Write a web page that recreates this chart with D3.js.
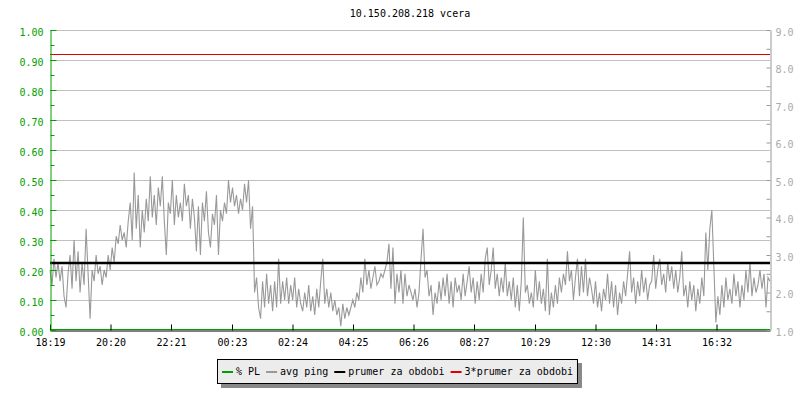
<!DOCTYPE html>
<html>
<head>
<meta charset="utf-8">
<script src="https://cdn.jsdelivr.net/npm/d3@7"></script>
<style>
body { margin: 0; background: #fff; }
text { font-family: "DejaVu Sans Mono", monospace; font-size: 10px; }
</style>
</head>
<body>
<script>
var title = "10.150.208.218 vcera";

// x axis labels (one every ~121 min), the first one is the start of the graph
var timeLabels = ["18:19", "20:20", "22:21", "00:23", "02:24", "04:25", "06:26", "08:27", "10:29", "12:30", "14:31", "16:32"];
var leftLabels = ["0.00", "0.10", "0.20", "0.30", "0.40", "0.50", "0.60", "0.70", "0.80", "0.90", "1.00"];
var rightLabels = ["1.0", "2.0", "3.0", "4.0", "5.0", "6.0", "7.0", "8.0", "9.0"];

// avg ping [ms], one sample every ~4 min, rows = one label interval
var avgPing = [
    2.6,2.2,2.9,2.4,2.8,2.3,2.7,1.9,1.6,2.5,3.0,2.1,3.4,2.3,3.1,2.0,2.8,2.2,3.7,2.5,1.3,2.6,2.3,3.0,2.5,2.7,2.2,2.6,2.4,3.0,
    2.6,3.2,2.8,3.5,3.3,3.8,3.4,3.6,3.2,3.9,4.4,3.4,5.2,3.7,4.6,3.2,4.2,3.6,4.5,3.9,5.1,4.0,4.6,3.8,4.8,4.3,5.1,3.9,3.0,4.4,
    4.1,5.0,3.8,4.6,4.0,4.4,3.9,4.9,4.3,4.6,3.7,4.5,4.0,3.1,4.3,3.0,4.4,3.9,4.7,3.6,3.2,4.1,3.8,4.6,3.0,4.2,3.9,4.4,4.1,5.0,
    4.4,4.8,4.3,4.6,4.1,4.5,4.2,4.9,4.4,5.0,3.7,4.3,2.0,2.4,1.6,1.3,2.3,1.6,2.5,1.7,2.2,1.5,2.3,1.6,2.9,1.7,2.3,1.8,2.4,1.7,
    2.2,1.8,2.4,1.6,2.1,1.7,1.5,2.0,1.6,2.2,1.5,1.9,1.4,2.1,1.6,2.3,2.9,1.7,2.1,1.6,2.0,1.5,1.8,1.4,1.6,1.1,1.7,1.3,1.6,1.4,
    1.6,1.8,1.6,2.0,1.8,2.4,2.0,2.9,2.2,2.6,2.1,2.4,2.7,2.2,2.3,2.5,2.4,2.6,2.8,3.3,2.1,3.2,1.7,2.5,2.0,2.6,1.7,2.5,1.9,2.2,
    2.0,1.8,2.1,1.6,2.0,2.9,3.7,2.4,2.6,1.9,2.2,1.4,2.0,1.7,2.3,1.8,2.4,1.9,2.5,1.7,2.3,1.6,2.4,2.0,2.2,1.8,2.5,1.9,2.3,2.7,
    2.0,2.4,1.7,2.3,1.8,2.5,2.0,2.9,3.2,2.2,2.6,3.2,2.1,2.5,1.9,2.4,2.0,2.8,1.9,2.3,1.8,2.4,1.6,2.2,1.5,2.3,4.0,2.0,2.2,1.7,
    2.0,1.6,2.6,1.8,2.3,1.7,2.1,1.5,2.9,1.4,2.0,1.6,2.2,1.7,2.4,2.0,2.5,2.2,3.1,2.3,2.6,1.8,2.4,2.9,1.9,2.7,2.0,2.9,1.9,2.4,
    2.1,1.7,2.3,1.6,2.0,1.5,2.1,1.8,2.5,1.7,2.3,1.6,2.2,1.4,2.0,1.7,2.3,1.9,2.5,3.1,2.0,2.4,1.7,2.3,1.9,2.6,2.0,2.4,1.8,2.2,
    2.3,3.0,2.1,2.6,2.9,2.2,2.5,2.0,2.8,2.3,2.7,2.1,2.6,2.0,2.4,3.1,1.9,2.2,1.6,2.3,1.8,2.2,1.5,2.1,1.7,2.4,1.9,3.6,2.6,3.7,
    4.2,2.7,1.2,1.9,1.4,2.2,1.6,2.4,1.8,2.1,1.7,2.5,1.9,2.3,1.6,2.2,1.8,2.6,2.0,2.8,1.9,2.4,2.0,2.2,2.6,2.1,2.5,1.6,2.4,2.3
];

// % PL, hourly, no loss at all
var packetLoss = [0,0,0,0,0,0,0,0,0,0,0,0,0,0,0,0,0,0,0,0,0,0,0,0,0];

var avgPeriod = 2.79;   // prumer za obdobi

var legendItems = ["% PL", "avg ping", "prumer za obdobi", "3*prumer za obdobi"];
var legendColors = ["#00a000", "#999999", "#000000", "#e00000"];

var chartWidth = 800;
var chartHeight = 400;
var plotLeft = 50, plotRight = 770, plotTop = 30, plotBottom = 330;

var parseTime = d3.timeParse("%H:%M");
var t0 = parseTime(timeLabels[0]);
var dayMs = 24 * 60 * 60 * 1000;
var tickTimes = timeLabels.map(function(l) {
    var t = parseTime(l);
    if (t < t0) t = new Date(+t + dayMs);
    return t;
});

var x = d3.scaleTime()
    .domain([t0, new Date(+t0 + dayMs)])
    .range([plotLeft, plotRight]);
var yPL = d3.scaleLinear().domain([0, 1]).range([plotBottom, plotTop]);
var yPing = d3.scaleLinear().domain([1, 9]).range([plotBottom, plotTop]);

var svg = d3.select("body")
    .append("svg")
    .attr("width", chartWidth)
    .attr("height", chartHeight);

svg.append("text")
    .attr("x", (plotLeft + plotRight) / 2)
    .attr("y", 17)
    .attr("text-anchor", "middle")
    .attr("fill", "#000")
    .text(title);

// grid
var leftVals = leftLabels.map(Number);
svg.append("g")
    .selectAll("line")
    .data(leftVals.slice(1))
    .enter()
    .append("line")
    .attr("x1", plotLeft)
    .attr("x2", plotRight)
    .attr("y1", function(d) { return Math.round(yPL(d)) + 0.5; })
    .attr("y2", function(d) { return Math.round(yPL(d)) + 0.5; })
    .attr("stroke", "#c0c0c0");

// data
var pingStep = dayMs / (avgPing.length - 1);
var pingLine = d3.line()
    .x(function(d, i) { return x(new Date(+t0 + i * pingStep)); })
    .y(function(d) { return yPing(d); });
svg.append("path")
    .datum(avgPing)
    .attr("d", pingLine)
    .attr("fill", "none")
    .attr("stroke", "#999999")
    .attr("stroke-width", 1.1);

var plStep = dayMs / (packetLoss.length - 1);
var plLine = d3.line()
    .x(function(d, i) { return x(new Date(+t0 + i * plStep)); })
    .y(function(d) { return yPL(d) - 0.5; });
svg.append("path")
    .datum(packetLoss)
    .attr("d", plLine)
    .attr("fill", "none")
    .attr("stroke", "#00a000");

// mean lines
svg.append("line")
    .attr("x1", plotLeft).attr("x2", plotRight)
    .attr("y1", yPing(avgPeriod)).attr("y2", yPing(avgPeriod))
    .attr("stroke", "#000").attr("stroke-width", 2.5);
svg.append("line")
    .attr("x1", plotLeft).attr("x2", plotRight)
    .attr("y1", Math.round(yPing(3 * avgPeriod)) + 0.5).attr("y2", Math.round(yPing(3 * avgPeriod)) + 0.5)
    .attr("stroke", "#e00000").attr("stroke-width", 1);

// x axis
var xAxis = svg.append("g")
    .attr("transform", "translate(0," + (plotBottom + 0.5) + ")")
    .call(d3.axisBottom(x)
        .tickValues(tickTimes)
        .tickFormat(function(d, i) { return timeLabels[i]; })
        .tickSizeInner(-6)
        .tickSizeOuter(0)
        .tickPadding(8));
xAxis.select(".domain").attr("stroke", "#000");
xAxis.selectAll(".tick line").attr("stroke", "#000");
xAxis.selectAll("text").attr("fill", "#000").attr("font-family", null).attr("font-size", null);

// left axis (% PL)
var minorLeft = [0.05, 0.15, 0.25, 0.35, 0.45, 0.55, 0.65, 0.75, 0.85, 0.95];
var yAxisL = svg.append("g")
    .attr("transform", "translate(" + (plotLeft + 0.5) + ",0)")
    .call(d3.axisLeft(yPL)
        .tickValues(leftVals)
        .tickFormat(function(d, i) { return leftLabels[i]; })
        .tickSizeInner(-6)
        .tickSizeOuter(0)
        .tickPadding(7));
yAxisL.select(".domain").attr("stroke", "#00a000");
yAxisL.selectAll(".tick line").attr("stroke", "#00a000");
yAxisL.selectAll("text").attr("fill", "#00a000").attr("dy", "0.5em").attr("font-family", null).attr("font-size", null);
svg.append("g")
    .attr("transform", "translate(" + (plotLeft + 0.5) + ",0)")
    .call(d3.axisLeft(yPL).tickValues(minorLeft).tickFormat("").tickSizeInner(-4).tickSizeOuter(0))
    .call(function(g) {
        g.select(".domain").remove();
        g.selectAll(".tick line").attr("stroke", "#00a000");
    });

// right axis (ping)
var rightVals = rightLabels.map(Number);
var minorRight = [1.5, 2.5, 3.5, 4.5, 5.5, 6.5, 7.5, 8.5];
var yAxisR = svg.append("g")
    .attr("transform", "translate(" + (plotRight + 0.5) + ",0)")
    .call(d3.axisRight(yPing)
        .tickValues(rightVals)
        .tickFormat(function(d, i) { return rightLabels[i]; })
        .tickSizeInner(-4)
        .tickSizeOuter(0)
        .tickPadding(5));
yAxisR.select(".domain").attr("stroke", "#999");
yAxisR.selectAll(".tick line").attr("stroke", "#999");
yAxisR.selectAll("text").attr("fill", "#aaa").attr("dy", "0.5em").attr("font-family", null).attr("font-size", null);
svg.append("g")
    .attr("transform", "translate(" + (plotRight + 0.5) + ",0)")
    .call(d3.axisRight(yPing).tickValues(minorRight).tickFormat("").tickSizeInner(-4).tickSizeOuter(0))
    .call(function(g) {
        g.select(".domain").remove();
        g.selectAll(".tick line").attr("stroke", "#999");
    });

// legend
var legend = svg.append("g");
var shadow = legend.append("rect")
    .attr("fill", "#888");
var box = legend.append("rect")
    .attr("fill", "#ececec")
    .attr("stroke", "#000");

var lx = 222;
var ly = 372;
legendItems.forEach(function(name, i) {
    legend.append("line")
        .attr("x1", lx).attr("x2", lx + 11)
        .attr("y1", ly).attr("y2", ly)
        .attr("stroke", legendColors[i])
        .attr("stroke-width", 2);
    var t = legend.append("text")
        .attr("x", lx + 14)
        .attr("y", ly + 3)
        .attr("fill", "#000")
        .text(name);
    lx = lx + 14 + t.node().getComputedTextLength() + 6;
});
var boxW = lx - 217 - 2;
box.attr("x", 217.5).attr("y", 359.5).attr("width", boxW).attr("height", 24);
shadow.attr("x", 221).attr("y", 363).attr("width", boxW + 1).attr("height", 25);
</script>
</body>
</html>
